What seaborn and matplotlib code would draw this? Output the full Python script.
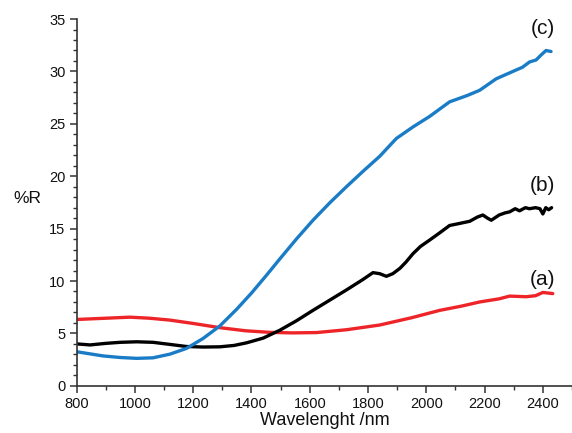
import matplotlib
matplotlib.use("Agg")
import matplotlib.pyplot as plt
from matplotlib.ticker import MultipleLocator
import pandas as pd
import seaborn as sns

# Diffuse reflectance spectra of three samples
wl_a = [800, 900, 983, 1050, 1120, 1200, 1291, 1380, 1463, 1540, 1623, 1726,
        1840, 1950, 2046, 2120, 2183, 2250, 2286, 2343, 2375, 2400, 2434]
r_a = [6.33, 6.45, 6.55, 6.45, 6.27, 5.95, 5.55, 5.25, 5.10, 5.05, 5.08, 5.35,
       5.80, 6.50, 7.20, 7.60, 8.00, 8.30, 8.56, 8.50, 8.60, 8.91, 8.80]

wl_b = [800, 846, 900, 950, 1006, 1062, 1120, 1177, 1234, 1291, 1340, 1383,
        1440, 1497, 1554, 1611, 1670, 1726, 1780, 1817, 1840, 1863, 1885, 1909,
        1930, 1954, 1980, 2011, 2046, 2080, 2115, 2149, 2175, 2194, 2210, 2223,
        2250, 2270, 2286, 2305, 2320, 2340, 2354, 2375, 2390, 2400, 2410, 2420,
        2430]
r_b = [4.00, 3.90, 4.05, 4.15, 4.20, 4.15, 3.95, 3.75, 3.70, 3.72, 3.85, 4.10,
       4.55, 5.30, 6.20, 7.20, 8.20, 9.15, 10.10, 10.80, 10.70, 10.45, 10.70,
       11.20, 11.80, 12.60, 13.30, 13.90, 14.60, 15.30, 15.50, 15.70, 16.10,
       16.30, 16.00, 15.80, 16.30, 16.50, 16.60, 16.90, 16.70, 17.00, 16.90,
       17.00, 16.90, 16.40, 17.00, 16.80, 17.00]

wl_c = [800, 891, 950, 1006, 1062, 1120, 1177, 1234, 1291, 1349, 1400, 1450,
        1497, 1554, 1611, 1670, 1726, 1780, 1840, 1897, 1954, 2011, 2080, 2140,
        2183, 2240, 2297, 2330, 2354, 2377, 2395, 2411, 2428]
r_c = [3.25, 2.85, 2.70, 2.62, 2.67, 3.02, 3.57, 4.52, 5.70, 7.30, 8.85, 10.50,
       12.10, 14.00, 15.80, 17.50, 19.00, 20.40, 21.90, 23.60, 24.70, 25.70,
       27.10, 27.70, 28.20, 29.30, 30.00, 30.40, 30.90, 31.10, 31.60, 32.00,
       31.90]

labels = ["(a)", "(b)", "(c)"]
colors = ["#ee2528", "#000000", "#1a7cc6"]
label_y = [10.1, 19.1, 34.1]

df = pd.concat([
    pd.DataFrame({"wl": wl_a, "R": r_a, "sample": labels[0]}),
    pd.DataFrame({"wl": wl_b, "R": r_b, "sample": labels[1]}),
    pd.DataFrame({"wl": wl_c, "R": r_c, "sample": labels[2]}),
], ignore_index=True)

sns.set_style("ticks")
plt.rcParams["font.family"] = ["Liberation Sans", "DejaVu Sans"]

fig = plt.figure(figsize=(5.72, 4.33), dpi=100)
ax = fig.add_axes([0.134, 0.109, 0.866, 0.847])

sns.lineplot(data=df, x="wl", y="R", hue="sample", palette=dict(zip(labels, colors)),
             estimator=None, sort=False, linewidth=2.4, legend=False, ax=ax)

for lab, y in zip(labels, label_y):
    ax.text(2400, y, lab, ha="center", va="center", fontsize=15, color="#111111")

ax.set_xlim(800, 2500)
ax.set_ylim(0, 35)
ax.set_xticks(range(800, 2401, 200))
ax.set_yticks(range(0, 36, 5))
ax.xaxis.set_minor_locator(MultipleLocator(100))
ax.yaxis.set_minor_locator(MultipleLocator(1))

for side in ("top", "right"):
    ax.spines[side].set_visible(False)
for side in ("left", "bottom"):
    ax.spines[side].set_linewidth(1.2)
    ax.spines[side].set_color("#333333")

ax.tick_params(which="major", direction="out", length=5, width=1.1,
               color="#333333", labelsize=10.5, labelcolor="#111111", pad=3)
ax.tick_params(which="minor", direction="out", length=3, width=1.0, color="#333333")

ax.set_xlabel("Wavelenght /nm", fontsize=13, color="#111111", labelpad=1)
ax.set_ylabel("%R", fontsize=12.5, color="#111111", rotation=0, ha="center", va="center")
ax.yaxis.set_label_coords(-0.1, 0.512)

fig.savefig("out.png", dpi=100)
